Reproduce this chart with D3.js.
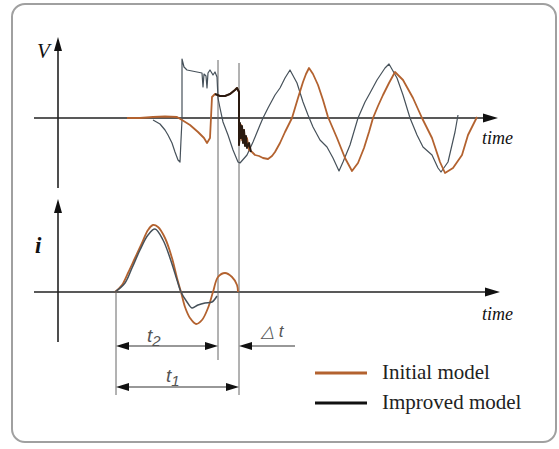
<!DOCTYPE html>
<meta charset="utf-8">
<script src="https://d3js.org/d3.v7.min.js"></script>
<style>
  body { margin: 0; background: #fff; }
</style>
<div id="chart"></div>
<script>
// waveforms: [time, value] (arbitrary units)
const vInitial = [
  [69,0],[82,0],[95,1],[107,1.5],[119,1],[124,-2],[132,-7],[140,-14],[146,-20],[149,-25],[152,-20],
  [154,21],[157,24],[162,22],[167,22],[172,24],[177,28],[179,30],[181,26],[181,-27],
  [183,-7],[184,-22],[186,-12],[187,-27],[189,-20],[191,-32],[194,-34],[197,-37],[201,-38],[205,-40],
  [210,-41],[214,-38],[217,-34],[222,-25],[227,-14],[234,0],[240,20],[245,36],[248,44],[251,50],
  [255,44],[260,33],[265,18],[270,1],[279,-20],[283,-30],[287,-40],[294,-53],[300,-45],[306,-30],
  [311,-14],[315,0],[320,12],[325,23],[331,35],[337,46],[345,38],[350,29],[355,20],[364,0],
  [369,-10],[374,-20],[382,-44],[387,-55],[395,-50],[404,-37],[410,-17],[419,1]
];
const vImproved = [
  [95,-2],[102,-6],[107,-12],[110,-17],[114,-25],[117,-34],[120,-42],[122,-44],[123,-22],[124,-2],
  [124,59],[126,51],[129,48],[134,47],[139,46],[144,45],[145,31],[146,44],[148,42],[149,30],
  [150,45],[152,48],[155,43],[157,46],[159,41],[160,20],[162,10],[165,-4],[170,-17],[175,-32],
  [180,-44],[182,-45],[189,-37],[195,-24],[202,-7],[205,0],[210,10],[217,23],[222,30],[227,40],
  [232,48],[239,35],[245,16],[250,3],[255,-9],[262,-22],[269,-29],[275,-40],[281,-53],[285,-44],
  [292,-27],[300,0],[307,16],[312,25],[319,38],[327,50],[331,54],[339,40],[345,23],[352,0],
  [359,-17],[365,-29],[374,-37],[380,-50],[383,-54],[390,-44],[397,-14],[400,3]
];
// dark noisy part of the initial model trace around the second switching
const vNoise = [
  [157,24],[162,22],[167,22],[172,24],[177,28],[179,30],[181,26],[181,-27],[182,-5],[183,-20],
  [184,-8],[185,-25],[186,-12],[187,-28],[188,-18],[189,-30],[191,-25],[193,-34]
];
const iInitial = [
  [57,0],[64,7],[70,19],[77,34],[84,49],[90,62],[95,67],[100,65],[107,54],[114,34],[119,14],
  [123,0],[127,-15],[132,-26],[138,-32],[144,-28],[150,-16],[155,0],[160,15],[167,19],[174,15],
  [179,7],[180,0]
];
const iImproved = [
  [57,0],[67,9],[74,24],[82,42],[90,57],[97,63],[105,52],[112,34],[119,12],[123,0],[129,-10],
  [134,-16],[140,-13],[147,-11],[154,-10],[159,-4]
];
// time marks: start of fault current, t2 (improved), t1 (initial)
const tStart = 58, tImproved = 160, tInitial = 181;
const legendLabels = ["Initial model", "Improved model"];

const W = 559, H = 449;
const orange = "#b3622f", dark = "#46515a";

const svg = d3.select("#chart").append("svg")
  .attr("width", W).attr("height", H);

// frame
svg.append("rect")
  .attr("x", 12).attr("y", 4).attr("width", 544).attr("height", 438)
  .attr("rx", 13).attr("fill", "none").attr("stroke", "#a0a0a0").attr("stroke-width", 2);

const x = d3.scaleLinear().domain([0, 440]).range([58, 498]);
const yV = d3.scaleLinear().domain([-80, 80]).range([198, 38]);
const yI = d3.scaleLinear().domain([-60, 80]).range([352, 212]);

const lineV = d3.line().x(d => x(d[0])).y(d => yV(d[1]));
const lineI = d3.line().x(d => x(d[0])).y(d => yI(d[1])).curve(d3.curveCatmullRom);

function arrowHead(g, tipX, tipY, dir, len, half) {
  // dir: "up", "right", "left"
  let pts;
  if (dir === "up") pts = [[tipX, tipY], [tipX - half, tipY + len], [tipX + half, tipY + len]];
  else if (dir === "right") pts = [[tipX, tipY], [tipX - len, tipY - half], [tipX - len, tipY + half]];
  else pts = [[tipX, tipY], [tipX + len, tipY - half], [tipX + len, tipY + half]];
  g.append("path").attr("d", "M" + pts.join("L") + "Z").attr("fill", "#111");
}

// axes
const axes = svg.append("g").attr("stroke", "#222").attr("stroke-width", 1.6);
// V axis
axes.append("line").attr("x1", x(0)).attr("x2", x(0)).attr("y1", 48).attr("y2", 188);
axes.append("line").attr("x1", 34).attr("x2", 486).attr("y1", yV(0)).attr("y2", yV(0));
arrowHead(svg, x(0), 37, "up", 14, 4);
arrowHead(svg, 498, yV(0), "right", 15, 4.5);
// i axis
axes.append("line").attr("x1", x(0)).attr("x2", x(0)).attr("y1", 210).attr("y2", 342);
axes.append("line").attr("x1", 34).attr("x2", 488).attr("y1", yI(0)).attr("y2", yI(0));
arrowHead(svg, x(0), 199, "up", 14, 4);
arrowHead(svg, 500, yI(0), "right", 15, 4.5);

// guide lines
const guides = svg.append("g").attr("stroke", "#666").attr("stroke-width", 1);
guides.append("line").attr("x1", x(tImproved)).attr("x2", x(tImproved)).attr("y1", 60).attr("y2", 360);
guides.append("line").attr("x1", x(tInitial)).attr("x2", x(tInitial)).attr("y1", 63).attr("y2", 395);
guides.append("line").attr("x1", x(tStart)).attr("x2", x(tStart)).attr("y1", yI(0)).attr("y2", 395);

// voltage traces
svg.append("path").datum(vImproved).attr("d", lineV)
  .attr("fill", "none").attr("stroke", dark).attr("stroke-width", 1.2).attr("stroke-linejoin", "round");
svg.append("path").datum(vInitial).attr("d", lineV)
  .attr("fill", "none").attr("stroke", orange).attr("stroke-width", 1.8).attr("stroke-linejoin", "round");
svg.append("path").datum(vNoise).attr("d", lineV)
  .attr("fill", "none").attr("stroke", "#2a1a10").attr("stroke-width", 2).attr("stroke-linejoin", "round");

// current traces
svg.append("path").datum(iInitial).attr("d", lineI)
  .attr("fill", "none").attr("stroke", orange).attr("stroke-width", 1.8);
svg.append("path").datum(iImproved).attr("d", lineI)
  .attr("fill", "none").attr("stroke", dark).attr("stroke-width", 1.5);

// dimension arrows
const dim = svg.append("g").attr("stroke", "#333").attr("stroke-width", 1.2);
dim.append("line").attr("x1", x(tStart) + 8).attr("x2", x(tImproved) - 8).attr("y1", 346).attr("y2", 346);
arrowHead(svg, x(tStart), 346, "left", 13, 4);
arrowHead(svg, x(tImproved), 346, "right", 13, 4);
dim.append("line").attr("x1", x(tStart) + 8).attr("x2", x(tInitial) - 8).attr("y1", 387).attr("y2", 387);
arrowHead(svg, x(tStart), 387, "left", 13, 4);
arrowHead(svg, x(tInitial), 387, "right", 13, 4);
dim.append("line").attr("x1", x(tInitial) + 8).attr("x2", 295).attr("y1", 346).attr("y2", 346);
arrowHead(svg, x(tInitial), 346, "left", 13, 4);

// labels
const serif = "'Liberation Serif', 'Times New Roman', serif";
const sans = "'Liberation Sans', Arial, sans-serif";
svg.append("text").attr("x", 37).attr("y", 58).attr("font-family", serif).attr("font-style", "italic")
  .attr("font-size", 21).attr("fill", "#111").text("V");
svg.append("text").attr("x", 35).attr("y", 253).attr("font-family", serif).attr("font-style", "italic")
  .attr("font-weight", "bold").attr("font-size", 23).attr("fill", "#111").text("i");
svg.append("text").attr("x", 482).attr("y", 144).attr("font-family", serif).attr("font-style", "italic")
  .attr("font-size", 18).attr("fill", "#111").text("time");
svg.append("text").attr("x", 482).attr("y", 320).attr("font-family", serif).attr("font-style", "italic")
  .attr("font-size", 18).attr("fill", "#111").text("time");

const t2 = svg.append("text").attr("x", 147).attr("y", 342).attr("font-family", sans)
  .attr("font-style", "italic").attr("font-size", 19).attr("fill", "#555");
t2.append("tspan").text("t");
t2.append("tspan").attr("dy", 4).attr("font-size", 15).text("2");
const t1 = svg.append("text").attr("x", 166).attr("y", 382).attr("font-family", sans)
  .attr("font-style", "italic").attr("font-size", 19).attr("fill", "#555");
t1.append("tspan").text("t");
t1.append("tspan").attr("dy", 4).attr("font-size", 15).text("1");
svg.append("text").attr("x", 261).attr("y", 337).attr("font-family", sans)
  .attr("font-style", "italic").attr("font-size", 17).attr("fill", "#555").text("\u25B3 t");

// legend
const legend = svg.append("g");
[orange, "#111"].forEach((c, k) => {
  const ly = 373 + k * 30;
  legend.append("line").attr("x1", 315).attr("x2", 367).attr("y1", ly).attr("y2", ly)
    .attr("stroke", c).attr("stroke-width", 3);
  legend.append("text").attr("x", 382).attr("y", ly + 6).attr("font-family", serif)
    .attr("font-size", 21).attr("fill", "#222").text(legendLabels[k]);
});
</script>
